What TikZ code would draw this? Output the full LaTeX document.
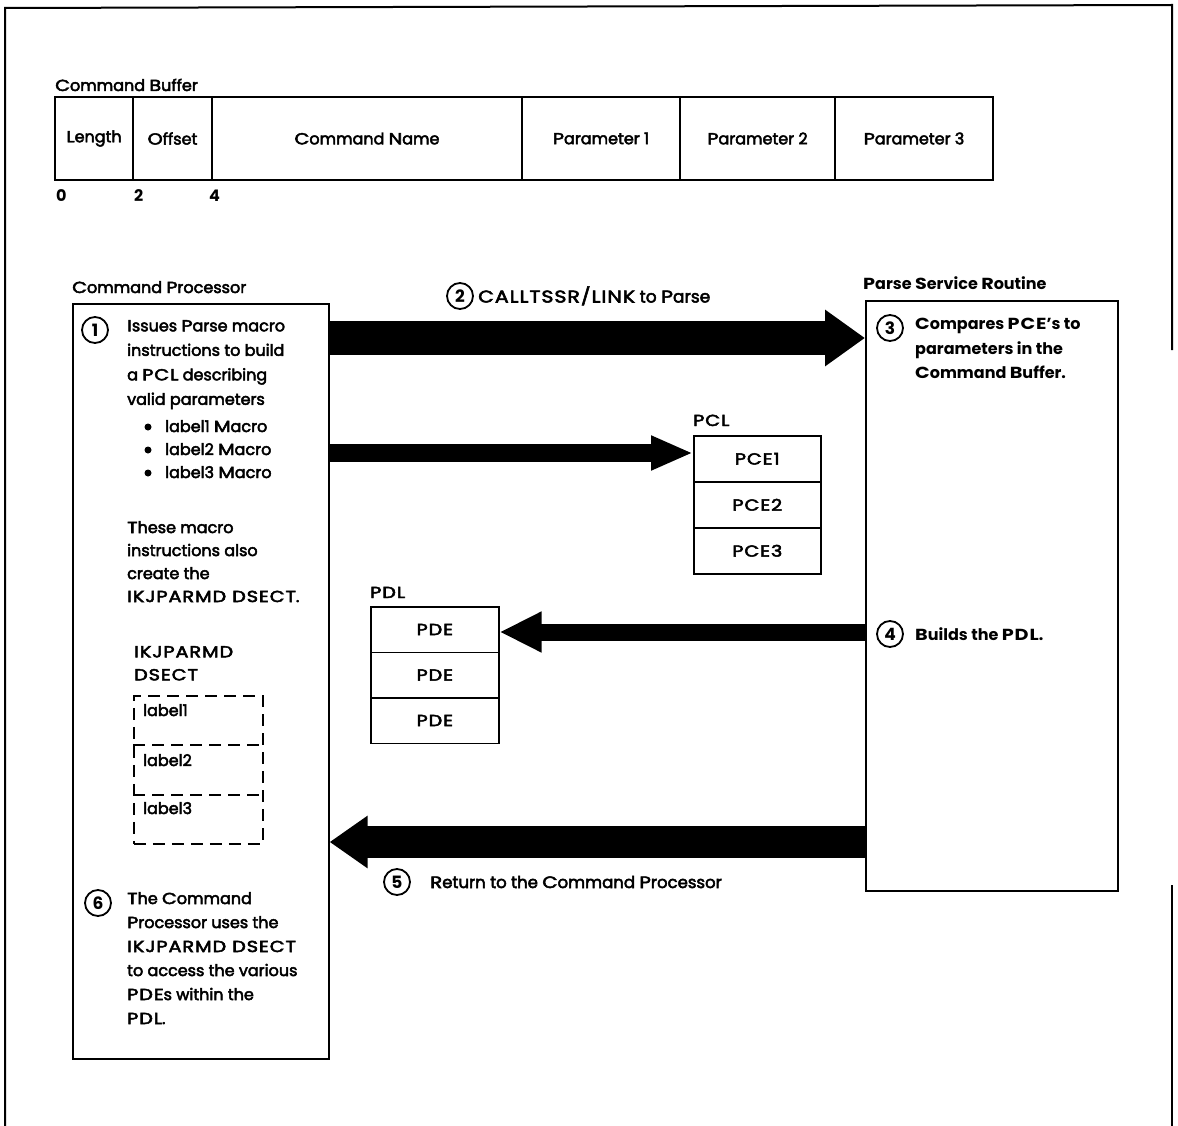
\documentclass[tikz,border=0pt]{standalone}
\usepackage{fontspec}
\setmainfont{Poppins}[UprightFeatures={FakeBold=3}]
\newcommand{\cp}[1]{\scalebox{1.2}[1]{\addfontfeature{LetterSpace=5}#1}}
\usetikzlibrary{arrows.meta,calc}
\begin{document}
\begin{tikzpicture}[x=1pt,y=-1pt,
  box/.style={draw, line width=1.6pt, inner sep=0pt, anchor=north west, font=\fontsize{16}{20}\selectfont},
  cell/.style={draw, line width=1.6pt, inner sep=0pt, minimum height=83pt, font=\fontsize{16}{20}\selectfont},
  txt/.style={inner sep=0pt, anchor=north west, align=left, font=\fontsize{16}{24.5}\selectfont},
  lbl/.style={inner sep=0pt, anchor=base west, font=\fontsize{16}{20}\selectfont},
  num/.style={draw, circle, line width=1.8pt, minimum size=26pt, inner sep=0pt, font=\fontsize{17}{17}\selectfont\bfseries},
  dot/.style={circle, fill, inner sep=0pt, minimum size=7pt},
  dsect/.style={draw, line width=1.5pt, dash pattern=on 12pt off 7pt},
  fat/.style={line width=#1, -{Triangle[length=40pt,width=54pt]}},
  thin/.style={line width=#1, -{Triangle[length=42pt,width=32pt]}}
]
\useasboundingbox (0,0) rectangle (1178,1126);
% outer frame
\draw[line width=2pt] (5,1126) -- (5,8) -- (1172,5) -- (1172,350);
\draw[line width=2pt] (1172,885) -- (1172,1126);

% command buffer
\node[lbl] (cbl) at (55,91) {\cp{C}ommand \cp{B}uffer};
\node[cell, minimum width=78pt] (len) at (94,138.5) {\cp{L}ength};
\node[cell, minimum width=79pt] (off) at (172.5,138.5) {\cp{O}ffset};
\node[cell, minimum width=310pt] (cname) at (367,138.5) {\cp{C}ommand \cp{N}ame};
\node[cell, minimum width=158pt] (p1) at (601,138.5) {\cp{P}arameter 1};
\node[cell, minimum width=155pt] (p2) at (757.5,138.5) {\cp{P}arameter 2};
\node[cell, minimum width=158pt] (p3) at (914,138.5) {\cp{P}arameter 3};
\node[lbl, font=\fontsize{16}{20}\selectfont\bfseries] (n0) at (56,202) {0};
\node[lbl, font=\fontsize{16}{20}\selectfont\bfseries] (n2) at (134,202) {2};
\node[lbl, font=\fontsize{16}{20}\selectfont\bfseries] (n4) at (209,202) {4};

% command processor
\node[lbl] (cpl) at (72,293) {\cp{C}ommand \cp{P}rocessor};
\node[box, minimum width=256pt, minimum height=755pt] (cpb) at (72,303) {};
\node[num] (c1) at (95,330) {1};
\node[txt] (t1) at (127,320) {\cp{I}ssues \cp{P}arse macro\\instructions to build\\a \cp{PCL} describing\\valid parameters};
\node[dot] (b1) at (148,427) {};
\node[lbl] (m1) at (165,432) {label1 \cp{M}acro};
\node[dot] (b2) at (148,450) {};
\node[lbl] (m2) at (165,455) {label2 \cp{M}acro};
\node[dot] (b3) at (148,473) {};
\node[lbl] (m3) at (165,478) {label3 \cp{M}acro};
\node[txt, font=\fontsize{16}{23}\selectfont] (t1b) at (127,521) {\cp{T}hese macro\\instructions also\\create the\\\cp{IKJPARMD DSECT}.};
\node[txt, font=\fontsize{16}{23}\selectfont] (ik) at (134,646) {\cp{IKJPARMD}\\\cp{DSECT}};
% dashed DSECT
\node[dsect, inner sep=0pt, anchor=north west, minimum width=129pt, minimum height=148pt] (ds) at (133,695) {};
\draw[dsect] (ds.west |- 0,745) -- (ds.east |- 0,745);
\draw[dsect] (ds.west |- 0,795) -- (ds.east |- 0,795);
\node[lbl] (l1) at (143,716) {label1};
\node[lbl] (l2) at (143,766) {label2};
\node[lbl] (l3) at (143,814) {label3};
\node[num] (c6) at (98,903) {6};
\node[txt, font=\fontsize{16}{24}\selectfont] (t6) at (127,892) {\cp{T}he \cp{C}ommand\\\cp{P}rocessor uses the\\\cp{IKJPARMD DSECT}\\to access the various\\\cp{PDE}s within the\\\cp{PDL}.};

% parse service routine
\node[lbl, font=\fontsize{16}{20}\selectfont\bfseries] (psl) at (863,289) {\cp{P}arse \cp{S}ervice \cp{R}outine};
\node[box, minimum width=252pt, minimum height=590pt] (psr) at (865,300) {};
\node[num] (c3) at (890,328) {3};
\node[txt, font=\fontsize{16}{24.5}\selectfont\bfseries] (t3) at (915,318) {\cp{C}ompares \cp{PCE}{\char"27}s to\\parameters in the\\\cp{C}ommand \cp{B}uffer.};
\node[num] (c4) at (890,634) {4};
\node[lbl, font=\fontsize{16}{20}\selectfont\bfseries] (t4) at (915,640) {\cp{B}uilds the \cp{PDL}.};

% PCL
\node[lbl] (pcll) at (693,426) {\cp{PCL}};
\node[box, minimum width=127pt, minimum height=46pt] (pce1) at (693,435) {\cp{PCE1}};
\node[box, minimum width=127pt, minimum height=46pt] (pce2) at (693,481) {\cp{PCE2}};
\node[box, minimum width=127pt, minimum height=46pt] (pce3) at (693,527) {\cp{PCE3}};

% PDL
\node[lbl] (pdll) at (370,598) {\cp{PDL}};
\node[box, minimum width=128pt, minimum height=45.5pt] (pde1) at (370,606) {\cp{PDE}};
\node[box, minimum width=128pt, minimum height=45.5pt] (pde2) at (370,651.5) {\cp{PDE}};
\node[box, minimum width=128pt, minimum height=45.5pt] (pde3) at (370,697) {\cp{PDE}};

% arrows
\draw[fat=34pt] (cpb.east |- 0,338) -- (psr.west |- 0,338);
\draw[thin=18pt] (cpb.east |- 0,453) -- (pce1.west |- 0,453);
\draw[line width=17pt, -{Triangle[length=42pt,width=38pt]}] (psr.west |- 0,632) -- (pde1.east |- 0,632);
\draw[line width=32pt, -{Triangle[length=38pt,width=50pt]}] (psr.west |- 0,842) -- (cpb.east |- 0,842);

% arrow labels
\node[num] (c2) at (460,296) {2};
\node[lbl, font=\fontsize{17}{20}\selectfont] (t2) at (478,302.5) {\cp{CALLTSSR/LINK} to \cp{P}arse};
\node[num] (c5) at (397,882) {5};
\node[lbl, font=\fontsize{16.5}{20}\selectfont] (t5) at (430,888) {\cp{R}eturn to the \cp{C}ommand \cp{P}rocessor};
\end{tikzpicture}
\end{document}
